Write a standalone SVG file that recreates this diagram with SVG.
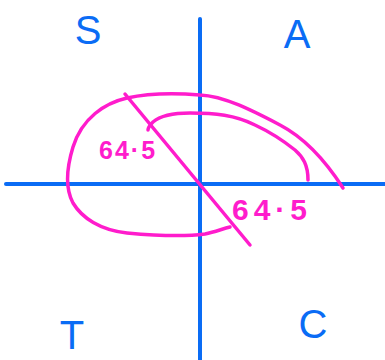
<svg xmlns="http://www.w3.org/2000/svg" width="385" height="360" viewBox="0 0 385 360">
<style>
.ax{stroke:#0a6cf5;stroke-width:4;stroke-linecap:round;fill:none}
.pk{stroke:#ff1ccc;stroke-width:3.5;stroke-linecap:round;stroke-linejoin:round;fill:none}
.q{font-family:"Liberation Sans",sans-serif;font-size:40px;fill:#0a6cf5}
.lb{font-family:"Liberation Sans",sans-serif;font-weight:bold;fill:#ff1ccc}
</style>
<rect width="385" height="360" fill="#fff"/>
<g id="axes">
<line class="ax" x1="200" y1="19" x2="200" y2="360"/>
<line class="ax" x1="6" y1="184" x2="385" y2="184"/>
</g>
<g id="quadrants">
<text class="q" x="88" y="44" text-anchor="middle">S</text>
<text class="q" x="297" y="48" text-anchor="middle">A</text>
<text class="q" x="72" y="349" text-anchor="middle">T</text>
<text class="q" x="313" y="338" text-anchor="middle" font-size="34">C</text>
</g>
<g id="curves">
<path class="pk" d="M343,188 C325,160 305,138 280,125 C255,112 225,96 200,95 C175,93 150,93 127,98 C105,103 82,118 73,147 C66,170 66,190 73,203 C82,218 100,230 127,233 C160,236 190,236 205,234 C215,232 222,229 230,227"/>
<path class="pk" d="M308,180 C308,165 303,157 295,150 C285,142 270,132 255,125 C235,115 215,113 190,113 C170,113 160,116 153,122 C150,125 148,128 148,130"/>
<line class="pk" x1="125" y1="94" x2="250" y2="245"/>
</g>
<g id="labels">
<text class="lb" x="99" y="159" font-size="25" letter-spacing="2">64·5</text>
<text class="lb" x="232" y="220" font-size="30" letter-spacing="5">64·5</text>
</g>
</svg>
